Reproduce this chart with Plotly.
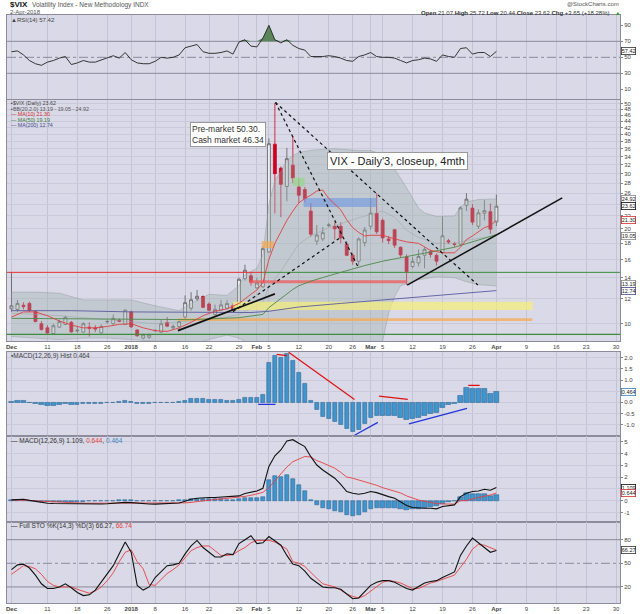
import math
import plotly.graph_objects as go
from plotly.subplots import make_subplots

# trading-day index: 0 = 1 Dec 2017 ... 81 = 2 Apr 2018
tick_idx = [0, 6, 11, 16, 20, 24, 29, 33, 38, 41, 43, 48, 53, 57, 60, 62, 67, 72, 77, 81, 86, 91, 96, 101]
tick_txt = ["<b>Dec</b>", "11", "18", "26", "<b>2018</b>", "8", "16", "22", "29", "<b>Feb</b>", "5", "12",
            "20", "26", "<b>Mar</b>", "5", "12", "19", "26", "<b>Apr</b>", "9", "16", "23", "30"]

opens = [11.15, 11.10, 11.45, 11.60, 10.95, 10.00, 9.70, 9.30, 9.75, 9.95,
         10.10, 9.48, 9.40, 9.75, 9.70, 9.35, 10.13, 10.00, 10.25, 9.95,
         10.90, 9.55, 9.00, 9.05, 9.50, 9.40, 10.08, 9.70, 9.80, 10.50,
         11.20, 12.00, 12.20, 11.55, 10.70, 11.05, 11.20, 11.40, 11.20, 13.90,
         14.20, 13.00, 13.10, 16.90, 37.20, 31.20, 27.30, 31.90, 27.20, 26.70,
         22.80, 18.30, 18.60, 20.50, 20.40, 20.40, 17.90, 16.50, 15.80, 18.10,
         20.40, 22.40, 21.30, 18.60, 19.90, 17.50, 16.30, 15.20, 15.60, 16.50,
         16.95, 16.50, 16.80, 18.35, 17.95, 17.90, 23.80, 23.30, 20.40, 22.45,
         22.70, 21.07]
highs = [14.58, 11.90, 11.70, 11.75, 11.00, 10.20, 9.90, 10.00, 10.30, 10.60,
         10.20, 9.80, 10.10, 10.10, 9.90, 9.95, 10.30, 10.70, 10.40, 11.10,
         11.00, 9.60, 9.30, 9.30, 9.60, 10.30, 10.50, 9.95, 10.20, 12.30,
         12.60, 12.80, 12.30, 11.70, 11.50, 11.90, 11.90, 11.60, 14.00, 15.40,
         14.60, 14.00, 17.60, 38.80, 50.30, 31.60, 36.20, 39.50, 29.00, 27.20,
         24.20, 20.60, 20.30, 20.90, 21.00, 21.00, 18.30, 16.80, 18.80, 20.30,
         25.00, 26.00, 21.60, 19.00, 20.00, 17.60, 16.60, 16.30, 17.20, 17.50,
         17.20, 16.70, 21.90, 18.60, 18.20, 23.60, 26.00, 24.00, 23.10, 24.70,
         24.10, 25.72]
lows = [10.90, 10.90, 11.10, 10.90, 10.10, 9.50, 9.30, 9.25, 9.70, 9.90,
        9.35, 9.35, 9.35, 9.10, 9.40, 9.30, 10.00, 9.90, 10.10, 9.90,
        9.70, 9.10, 8.92, 8.95, 9.40, 9.35, 9.75, 9.60, 9.60, 10.30,
        11.00, 11.80, 11.20, 10.95, 10.60, 11.00, 11.10, 11.00, 11.10, 13.70,
        13.20, 12.90, 13.00, 16.80, 22.40, 21.80, 24.50, 28.00, 24.20, 24.30,
        18.90, 17.80, 18.30, 20.30, 18.50, 18.00, 16.40, 15.40, 15.30, 17.60,
        19.90, 19.30, 18.10, 17.90, 17.40, 16.20, 13.30, 15.00, 15.20, 15.00,
        16.20, 15.30, 16.60, 17.90, 17.50, 17.70, 22.80, 20.60, 20.00, 21.30,
        19.30, 20.44]
closes = [11.40, 11.60, 11.33, 11.02, 10.16, 9.58, 9.34, 9.85, 10.15, 10.48,
          9.42, 9.53, 10.00, 9.68, 9.62, 9.80, 10.16, 10.40, 10.18, 11.04,
          9.77, 9.15, 9.22, 9.22, 9.52, 10.00, 9.82, 9.80, 10.15, 11.66,
          11.91, 12.22, 11.27, 11.03, 11.10, 11.47, 11.58, 11.08, 13.84, 14.79,
          13.54, 13.47, 17.31, 37.32, 29.98, 27.73, 33.46, 29.06, 25.61, 24.97,
          19.26, 19.13, 19.46, 20.60, 20.02, 18.72, 16.49, 15.80, 18.59, 19.85,
          22.47, 19.59, 18.73, 18.36, 17.76, 16.54, 14.64, 15.78, 16.35, 17.23,
          16.59, 15.80, 19.02, 18.20, 17.86, 23.34, 24.87, 21.03, 22.50, 22.87,
          19.97, 23.62]
days = list(range(len(closes)))

# moving averages / bands (day index, value)
ma10_x = [0, 2, 4, 6, 8, 10, 12, 14, 16, 18, 20, 22, 24, 26, 28, 30, 32, 34, 36, 38, 40, 41, 42, 43, 44,
          45, 46, 47, 48, 49, 50, 51, 52, 53, 54, 55, 56, 57, 58, 59, 60, 62, 64, 66, 68, 70, 72, 74, 75,
          76, 77, 78, 79, 80, 81]
ma10_y = [10.5, 10.9, 10.9, 10.6, 10.2, 9.9, 9.7, 9.7, 9.8, 9.95, 10.0, 9.7, 9.5, 9.45, 9.7, 10.1, 10.6,
          10.95, 11.15, 11.6, 12.4, 12.8, 13.5, 16.0, 18.0, 19.5, 21.3, 22.8, 24.2, 25.0, 25.6, 26.4, 26.6,
          25.0, 24.0, 23.0, 21.4, 20.2, 19.5, 19.0, 19.1, 19.1, 18.6, 18.2, 18.0, 17.1, 16.8, 16.8, 17.5,
          18.5, 19.0, 19.6, 20.2, 20.5, 21.3]
ma50_x = [0, 10, 20, 30, 38, 42, 43, 44, 45, 46, 47, 48, 50, 53, 56, 59, 62, 66, 70, 74, 77, 81]
ma50_y = [10.4, 10.35, 10.3, 10.3, 10.45, 10.7, 11.25, 11.65, 12.0, 12.45, 12.85, 13.2, 13.65, 14.2,
          14.75, 15.3, 15.8, 16.3, 16.9, 17.5, 18.2, 19.19]
ma200_x = [0, 10, 20, 30, 40, 43, 48, 55, 62, 70, 81]
ma200_y = [11.0, 11.0, 10.9, 10.85, 10.85, 10.95, 11.3, 11.6, 11.9, 12.25, 12.74]
bb_x = [0, 4, 8, 12, 16, 20, 24, 28, 30, 33, 36, 38, 39, 41, 42, 43, 44, 45, 46, 47, 48, 50, 54, 58,
        60, 61, 62, 63, 64, 65, 66, 67, 68, 69, 71, 74, 75, 76, 78, 81]
bb_up = [12.6, 12.6, 12.5, 11.9, 11.9, 11.9, 11.4, 11.0, 11.6, 12.4, 12.3, 13.2, 14.3, 15.0, 16.6, 24.0,
         28.5, 30.5, 33.0, 34.2, 35.0, 35.6, 36.0, 35.5, 35.5, 35.0, 34.5, 33.0, 31.0, 29.0, 27.0, 25.0,
         23.3, 22.5, 21.9, 22.0, 23.4, 24.4, 24.8, 24.92]
bb_lo = [9.1, 9.0, 8.9, 9.0, 9.0, 8.9, 8.8, 8.8, 8.6, 8.9, 9.2, 9.0, 8.8, 8.6, 8.2, 6.0, 5.0, 5.0, 5.0,
         5.0, 5.0, 5.0, 5.0, 5.0, 6.0, 7.5, 8.8, 10.8, 12.2, 13.2, 13.4, 13.6, 13.8, 13.9, 14.1, 14.0,
         13.8, 13.6, 13.3, 13.19]
bbmid_x = [0, 8, 16, 24, 30, 36, 38, 42, 43, 45, 48, 50, 53, 58, 62, 64, 66, 68, 71, 74, 76, 81]
bbmid_y = [10.8, 10.6, 10.3, 10.0, 10.2, 10.5, 10.7, 11.7, 13.1, 14.7, 17.9, 19.0, 20.2, 21.7, 22.8,
           21.8, 19.8, 18.8, 18.0, 18.0, 18.4, 19.05]

rsi = [57, 58, 53, 46, 42, 40, 44, 46, 49, 51, 41, 43, 46, 44, 44, 47, 50, 52, 49, 56,
       47, 43, 42, 42, 45, 50, 49, 50, 53, 62, 64, 66, 57, 55, 55, 56, 58, 54, 69, 72,
       64, 63, 74, 90, 72, 68, 72, 65, 61, 59, 51, 51, 51, 52, 51, 49, 46, 45, 51, 53,
       56, 51, 50, 50, 49, 46, 43, 46, 47, 49, 48, 45, 53, 51, 50, 61, 62, 54, 56, 56,
       51, 57.42]
macd_hist = [0.03, 0.05, 0.05, 0.0, -0.05, -0.12, -0.15, -0.13, -0.10, -0.08,
             -0.10, -0.10, -0.08, -0.07, -0.07, -0.05, -0.03, 0.0, 0.02, 0.05,
             0.02, -0.05, -0.07, -0.06, -0.04, -0.02, -0.01, 0.0, 0.02, 0.08,
             0.15, 0.17, 0.15, 0.12, 0.10, 0.10, 0.08, 0.05, 0.12, 0.22,
             0.22, 0.20, 0.33, 1.78, 2.10, 2.00, 2.20, 1.87, 1.33, 0.83,
             0.08, -0.33, -0.66, -0.75, -0.85, -1.00, -1.18, -1.30, -1.22, -0.97,
             -0.68, -0.62, -0.60, -0.62, -0.60, -0.70, -0.80, -0.75, -0.70, -0.60,
             -0.50, -0.45, -0.25, -0.10, -0.05, 0.30, 0.66, 0.60, 0.60, 0.60,
             0.40, 0.464]
macd_line = [0.06, 0.09, 0.12, 0.02, -0.08, -0.15, -0.22, -0.24, -0.25, -0.27,
             -0.28, -0.29, -0.30, -0.30, -0.29, -0.28, -0.27, -0.22, -0.17, -0.15,
             -0.17, -0.22, -0.28, -0.29, -0.30, -0.29, -0.27, -0.25, -0.20, -0.05,
             0.12, 0.20, 0.26, 0.26, 0.26, 0.28, 0.31, 0.34, 0.40, 0.60,
             0.70, 0.82, 1.05, 2.90, 3.80, 4.30, 5.06, 5.17, 4.86, 4.58,
             3.73, 3.02, 2.60, 2.23, 1.90, 1.38, 0.77, 0.62, 0.54, 0.62,
             0.77, 0.68, 0.48, 0.34, 0.20, -0.08, -0.42, -0.59, -0.65, -0.65,
             -0.65, -0.70, -0.50, -0.42, -0.36, 0.34, 0.62, 0.77, 0.82, 0.96,
             0.88, 1.109]
macd_signal = [0.05, 0.05, 0.04, 0.02, -0.02, -0.05, -0.09, -0.12, -0.15, -0.17,
               -0.19, -0.20, -0.22, -0.22, -0.22, -0.22, -0.22, -0.22, -0.21, -0.20,
               -0.20, -0.20, -0.21, -0.22, -0.23, -0.23, -0.23, -0.23, -0.22, -0.19,
               -0.15, -0.08, 0.0, 0.05, 0.10, 0.14, 0.18, 0.22, 0.26, 0.36,
               0.45, 0.55, 0.70, 1.10, 1.70, 2.30, 2.85, 3.30, 3.55, 3.75,
               3.70, 3.40, 3.20, 3.00, 2.75, 2.40, 2.00, 1.90, 1.76, 1.60,
               1.45, 1.30, 1.10, 0.95, 0.80, 0.65, 0.40, 0.20, 0.05, -0.05,
               -0.15, -0.25, -0.28, -0.32, -0.30, 0.0, 0.0, 0.15, 0.25, 0.36,
               0.48, 0.644]
sto_k = [42, 48, 49, 44, 35, 24, 18, 18, 20, 24, 19, 13, 9, 10, 16, 26, 36, 47, 62, 77,
         64, 22, 16, 20, 32, 40, 47, 48, 50, 62, 72, 79, 70, 64, 58, 58, 62, 61, 75, 80,
         85, 75, 76, 84, 78, 73, 60, 49, 47, 40, 31, 26, 20, 19, 19, 17, 11, 5, 6, 14,
         22, 26, 28, 28, 26, 22, 18, 16, 20, 25, 27, 28, 32, 35, 39, 60, 72, 82, 76, 70,
         64, 66.27]
sto_d = [36, 42, 47, 46, 43, 36, 27, 22, 20, 20, 20, 17, 14, 12, 15, 20, 28, 38, 52, 64,
         67, 52, 43, 23, 22, 30, 37, 42, 48, 57, 66, 70, 72, 72, 66, 60, 60, 61, 66, 70,
         76, 79, 79, 79, 77, 72, 68, 52, 50, 46, 38, 31, 24, 22, 20, 16, 11, 8, 6, 9,
         15, 21, 26, 28, 27, 25, 22, 18, 18, 22, 25, 27, 30, 33, 35, 45, 55, 68, 74, 73,
         70, 66.74]

W, H, ML, MR = 640, 614, 7, 20
X0, X1 = -0.75, 101.65
FONT = "Liberation Sans"


def px(x):
    return (x - ML) / (W - ML - MR)


def py(y):
    return 1 - y / H


fig = make_subplots(rows=5, cols=1)


def line(xs, ys, row, color, width=1, dash=None, **kw):
    fig.add_trace(go.Scatter(x=xs, y=ys, mode="lines", line=dict(color=color, width=width, dash=dash),
                             showlegend=False, hoverinfo="skip", **kw), row=row, col=1)


def box(xa, xb, ya, yb, row, color):
    fig.add_trace(go.Scatter(x=[xa, xb, xb, xa, xa], y=[ya, ya, yb, yb, ya], mode="lines", fill="toself",
                             fillcolor=color, line=dict(width=0), showlegend=False, hoverinfo="skip"),
                  row=row, col=1)


# ---- RSI panel
line([X0, X1], [70, 70], 1, "#8a8a9c")
line([X0, X1], [30, 30], 1, "#8a8a9c")
line([X0, X1], [50, 50], 1, "#8a8a9c", dash="dashdot")
line(days, [70] * len(days), 1, "rgba(0,0,0,0)", width=0)
fig.add_trace(go.Scatter(x=days, y=[max(v, 70) for v in rsi], mode="lines", line=dict(width=0),
                         fill="tonexty", fillcolor="#5a855a", showlegend=False, hoverinfo="skip"), row=1, col=1)
line(days, rsi, 1, "#222222", 0.9)

# ---- price panel
line(bb_x, bb_up, 2, "rgba(140,150,150,0.7)", 0.6)
fig.add_trace(go.Scatter(x=bb_x, y=bb_lo, mode="lines", line=dict(color="rgba(140,150,150,0.7)", width=0.6),
                         fill="tonexty", fillcolor="rgba(160,175,172,0.38)", showlegend=False,
                         hoverinfo="skip"), row=2, col=1)
line(bbmid_x, bbmid_y, 2, "rgba(150,160,160,0.8)", 0.6)

box(37.0, 87.1, 11.05, 11.75, 2, "rgba(245,240,120,0.7)")
box(27.8, 87.0, 10.2, 10.4, 2, "rgba(245,170,80,0.75)")
box(48.8, 61.0, 23.5, 25.1, 2, "rgba(110,150,225,0.6)")
box(47.0, 49.0, 27.4, 29.1, 2, "rgba(150,215,140,0.7)")
box(41.8, 43.8, 17.4, 18.3, 2, "rgba(245,170,80,0.7)")

line([X0, 42.0], [14.56, 14.56], 2, "#e83030", 1)
line([42.0, X1], [14.56, 14.56], 2, "#3c8c3c", 1)
line([X0, X1], [9.25, 9.25], 2, "#3c8c3c", 1.2)
line([39.8, 66.1], [13.6, 13.6], 2, "rgba(240,90,90,0.75)", 3)

line(ma200_x, ma200_y, 2, "#5a5aa0", 0.9)
line(ma50_x, ma50_y, 2, "#4a8a4a", 0.9)
line(ma10_x, ma10_y, 2, "#e04040", 0.9)

fig.add_trace(go.Candlestick(x=days, open=opens, high=highs, low=lows, close=closes, whiskerwidth=0,
                             increasing=dict(line=dict(color="#5a5a5a", width=0.8), fillcolor="#ededf4"),
                             decreasing=dict(line=dict(color="#cc0022", width=0.8), fillcolor="#cc0022"),
                             showlegend=False, hoverinfo="skip"), row=2, col=1)

line([44.1, 77.9], [50.5, 13.27], 2, "#111111", 1.2, dash="dot")
line([44.1, 57.9], [50.5, 15.14], 2, "#111111", 1.2, dash="dot")
line([37.0, 54.8], [10.92, 18.7], 2, "#111111", 1.2, dash="dot")
line([27.8, 44.0], [9.5, 12.43], 2, "#111111", 1.8)
line([66.1, 92.0], [13.27, 25.1], 2, "#111111", 1.5)

# ---- MACD histogram panel
fig.add_trace(go.Bar(x=days, y=macd_hist, width=0.72, marker=dict(color="#4294cc", line=dict(color="#1e5a8a", width=0.5)),
                     showlegend=False, hoverinfo="skip"), row=3, col=1)
for xs, ys, c in [([46.3, 57.3], [2.24, 0.13], "#e01010"), ([44.3, 46.0], [2.15, 2.09], "#e01010"),
                  ([41.2, 44.1], [-0.09, -0.09], "#2233dd"), ([57.3, 61.2], [-1.48, -0.9], "#2233dd"),
                  ([61.4, 66.2], [0.28, 0.13], "#e01010"), ([66.4, 76.1], [-0.97, -0.27], "#2233dd"),
                  ([76.3, 78.2], [0.76, 0.76], "#e01010")]:
    line(xs, ys, 3, c, 1.2)

# ---- MACD panel
fig.add_trace(go.Bar(x=days, y=macd_hist, width=0.72, marker=dict(color="#4294cc", line=dict(color="#1e5a8a", width=0.5)),
                     showlegend=False, hoverinfo="skip"), row=4, col=1)
line(days, macd_signal, 4, "#e84040", 0.9)
line(days, macd_line, 4, "#111111", 1.1)

# ---- Full stochastics panel
line([X0, X1], [80, 80], 5, "#8a8a9c")
line([X0, X1], [20, 20], 5, "#8a8a9c")
line([X0, X1], [50, 50], 5, "#8a8a9c", dash="dashdot")
line(days, sto_d, 5, "#e84040", 0.9)
line(days, sto_k, 5, "#111111", 1.1)

# ---- axes
domains = [(15, 99), (100, 341), (351.7, 436), (436, 521.7), (521.7, 603)]
tickfont = dict(family=FONT, size=6, color="#444")
for r in range(1, 6):
    top, bot = domains[r - 1]
    fig.update_xaxes(row=r, col=1, range=[X0, X1], tickvals=tick_idx, ticktext=tick_txt, showgrid=True,
                     gridcolor="#c3c3d4", gridwidth=1, showline=True, mirror=True, linecolor="#8c8c9c",
                     zeroline=False, showticklabels=r in (2, 5), ticks="", tickfont=tickfont,
                     rangeslider_visible=False)
    fig.update_yaxes(row=r, col=1, domain=[py(bot), py(top)], side="right", showline=True, mirror=True,
                     linecolor="#8c8c9c", zeroline=False, ticks="outside", ticklen=2, tickcolor="#888",
                     tickfont=tickfont)

fig.update_yaxes(row=1, col=1, range=[-2.1, 102.9], tickvals=[10, 30, 50, 70, 90], showgrid=False)
main_ticks = list(range(10, 52, 2))
# labels hidden under the value tags on the right scale (as in the original)
fig.update_yaxes(row=2, col=1, type="log", range=[math.log10(8.81), math.log10(51.4)], tickvals=main_ticks,
                 ticktext=["" if v == 24 else str(v) for v in main_ticks], showgrid=True, gridcolor="#cacada")
fig.update_yaxes(row=3, col=1, range=[-1.511, 2.269], tickvals=[-1, -0.5, 0, 0.5, 1, 1.5, 2],
                 ticktext=["-1.0", "-0.5", "0.0", "", "1.0", "1.5", "2.0"], showgrid=True, gridcolor="#cacada")
fig.update_yaxes(row=4, col=1, range=[-1.788, 5.483], tickvals=[-1, 0, 1, 2, 3, 4, 5],
                 ticktext=["-1", "0", "", "2", "3", "4", "5"], showgrid=True, gridcolor="#cacada")
fig.update_yaxes(row=5, col=1, range=[-0.38, 102.8], tickvals=[20, 50, 80], showgrid=False)

# ---- texts
ann = []


def text(x, y, s, size=6.5, color="#444", anchor="left", **kw):
    ann.append(dict(xref="paper", yref="paper", x=px(x), y=py(y), text=s, showarrow=False, xanchor=anchor,
                    yanchor="middle", font=dict(family=FONT, size=size, color=color), **kw))


text(8, 4.5, "<b>$VIX</b>", size=8, color="#111")
text(30, 4.5, "Volatility Index - New Methodology INDX", color="#555")
text(8, 11.5, "2-Apr-2018", size=6, color="#555")
text(621, 4, "@StockCharts.com", size=6, color="#555", anchor="right")
text(612, 12.5, "<b>Open</b> 21.07 <b>High</b> 25.72 <b>Low</b> 20.44 <b>Close</b> 23.62 "
                "<b>Chg</b> +3.65 (+18.28%)", size=6, color="#333", anchor="right")
text(613, 12.5, "▲", size=5.5, color="#2a9a2a")
text(9, 19.5, "▲RSI(14) 57.42", size=6, color="#444")
text(9, 103.5, "▪$VIX (Daily) 23.62", size=5.3, color="#444")
text(9, 109, "▪BB(20,2.0) 13.19 - 19.05 - 24.92", size=5.3, color="#555")
text(9, 114.5, "— MA(10) 21.30", size=5.3, color="#d03030")
text(9, 120, "— MA(50) 19.19", size=5.3, color="#3a7a3a")
text(9, 125.5, "— MA(200) 12.74", size=5.3, color="#4a4a90")
text(9, 356, "▪MACD(12,26,9) Hist 0.464", color="#444")
text(9, 440.5, "— MACD(12,26,9) 1.109, <span style='color:#e04040'>0.644</span>, "
               "<span style='color:#3a84c0'>0.464</span>", color="#333")
text(9, 525.5, "— Full STO %K(14,3) %D(3) 66.27, <span style='color:#e04040'>66.74</span>", color="#333")

ann.append(dict(xref="paper", yref="paper", x=px(227.5), y=py(122), text="Pre-market 50.30.<br>Cash market 46.34",
                showarrow=False, align="left", bgcolor="white", bordercolor="#9a9a9a", borderwidth=1, borderpad=1,
                font=dict(family=FONT, size=8.5, color="#333")))
ann.append(dict(xref="paper", yref="paper", x=px(468), y=py(151.7), text="VIX - Daily'3, closeup, 4mth",
                showarrow=False, bgcolor="white", bordercolor="#9a9a9a", borderwidth=1, borderpad=2,
                font=dict(family=FONT, size=11, color="#222")))

# value tags on the right scale
for yref, val, label, col in [("y", 57.42, "57.42", "#333"),
                              ("y2", math.log10(24.92), "24.92", "#888"),
                              ("y2", math.log10(23.62), "23.62", "#111"),
                              ("y2", math.log10(21.30), "21.30", "#d03030"),
                              ("y2", math.log10(19.05), "19.05", "#888"),
                              ("y2", math.log10(13.4), "13.19", "#888"),
                              ("y2", math.log10(12.74), "12.74", "#4a4a90"),
                              ("y3", 0.464, "0.464", "#3a84c0"),
                              ("y4", 1.109, "1.109", "#111"),
                              ("y4", 0.644, "0.644", "#d03030"),
                              ("y5", 66.27, "66.27", "#333")]:
    ann.append(dict(xref="paper", yref=yref, x=px(620.5), y=val, text=label, showarrow=False, xanchor="left",
                    yanchor="middle", bgcolor="white", bordercolor=col, borderwidth=0.8, borderpad=0,
                    font=dict(family=FONT, size=5.5, color="#222")))

fig.update_layout(width=W, height=H, margin=dict(l=ML, r=MR, t=0, b=0), plot_bgcolor="#d9d9e7",
                  paper_bgcolor="white", showlegend=False, bargap=0, annotations=ann,
                  font=dict(family=FONT, size=7, color="#444"))

# the page's default body margin would push the 640x614 figure out of the window
fig.write_html("out.html", config={"displayModeBar": False},
               post_script="document.body.style.margin='0';")
